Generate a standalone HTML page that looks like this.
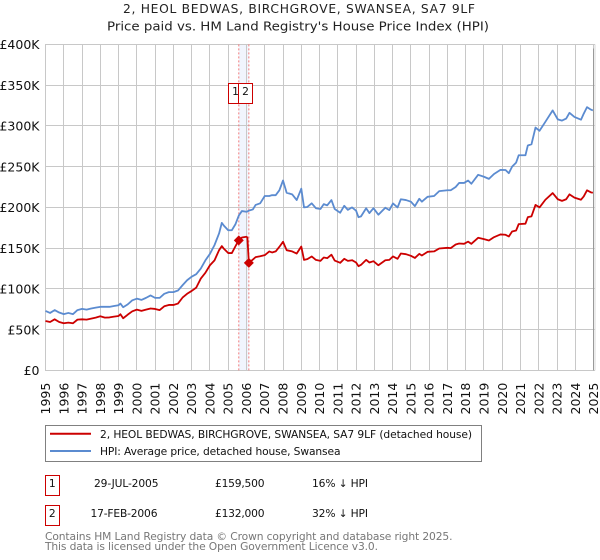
<!DOCTYPE html>
<html>
<head>
<meta charset="utf-8">
<title>2, HEOL BEDWAS price paid vs HPI</title>
<style>
html,body{margin:0;padding:0;background:#fff;}
body{width:600px;height:560px;overflow:hidden;}
svg{display:block;font-family:"DejaVu Sans","Liberation Sans",sans-serif;}
</style>
</head>
<body>
<svg id="chart" width="600" height="560" viewBox="0 0 600 560" xmlns="http://www.w3.org/2000/svg">
  <text x="123" y="13" font-size="12.3" fill="#222" textLength="352" lengthAdjust="spacing">2, HEOL BEDWAS, BIRCHGROVE, SWANSEA, SA7 9LF</text>
  <text x="107" y="30.7" font-size="12.6" fill="#222" textLength="382" lengthAdjust="spacingAndGlyphs">Price paid vs. HM Land Registry's House Price Index (HPI)</text>
  <g id="plot"></g>

  <g>
    <rect x="45.5" y="425.5" width="436" height="36" fill="#fff" stroke="#808080"/>
    <line x1="50" x2="91" y1="433.8" y2="433.8" stroke="#cc0000" stroke-width="2"/>
    <text x="100" y="438" font-size="10.7" fill="#111" textLength="372" lengthAdjust="spacing">2, HEOL BEDWAS, BIRCHGROVE, SWANSEA, SA7 9LF (detached house)</text>
    <line x1="50" x2="91" y1="451" y2="451" stroke="#5b8bd0" stroke-width="2"/>
    <text x="100" y="455" font-size="10.7" fill="#111" textLength="240.5" lengthAdjust="spacing">HPI: Average price, detached house, Swansea</text>
  </g>

  <g>
    <rect x="45.5" y="475.5" width="14" height="20" fill="#fff" stroke="#cc0000"/>
    <text x="52.3" y="487" text-anchor="middle" font-size="10.7" fill="#111">1</text>
    <text x="94" y="487" font-size="10.7" fill="#111" textLength="64.5" lengthAdjust="spacing">29-JUL-2005</text>
    <text x="215" y="487" font-size="10.7" fill="#111" textLength="49.5" lengthAdjust="spacing">£159,500</text>
    <text x="312" y="487" font-size="10.7" fill="#111" textLength="56" lengthAdjust="spacing">16% ↓ HPI</text>
  </g>
  <g>
    <rect x="45.5" y="505.5" width="14" height="20" fill="#fff" stroke="#cc0000"/>
    <text x="52.3" y="517" text-anchor="middle" font-size="10.7" fill="#111">2</text>
    <text x="90.5" y="517" font-size="10.7" fill="#111" textLength="67" lengthAdjust="spacing">17-FEB-2006</text>
    <text x="215" y="517" font-size="10.7" fill="#111" textLength="49.5" lengthAdjust="spacing">£132,000</text>
    <text x="312" y="517" font-size="10.7" fill="#111" textLength="56" lengthAdjust="spacing">32% ↓ HPI</text>
  </g>

  <text x="45" y="540" font-size="10.7" fill="#777" textLength="407.5" lengthAdjust="spacing">Contains HM Land Registry data © Crown copyright and database right 2025.</text>
  <text x="45" y="550" font-size="10.7" fill="#777" textLength="333" lengthAdjust="spacing">This data is licensed under the Open Government Licence v3.0.</text>
</svg>
<script>
const yearTicks = [1995,1996,1997,1998,1999,2000,2001,2002,2003,2004,2005,2006,2007,2008,2009,2010,2011,2012,2013,2014,2015,2016,2017,2018,2019,2020,2021,2022,2023,2024,2025];
const valueTicks = [0,50,100,150,200,250,300,350,400];
const valueLabels = ["£0","£50K","£100K","£150K","£200K","£250K","£300K","£350K","£400K"];
const saleDates = [2005.58,2006.13];
const salePrices = [159.5,132];
const saleLabels = ["1","2"];

const dates = [1995,1995.25,1995.5,1995.75,1996,1996.25,1996.5,1996.75,1997,1997.25,1997.5,1997.75,1998,1998.25,1998.5,1998.75,1999,1999.1,1999.25,1999.5,1999.75,2000,2000.25,2000.5,2000.75,2001,2001.25,2001.5,2001.75,2002,2002.25,2002.5,2002.75,2003,2003.25,2003.5,2003.75,2004,2004.25,2004.5,2004.65,2004.75,2005,2005.2,2005.4,2005.58,2005.75,2006,2006.05,2006.13,2006.35,2006.5,2006.75,2007,2007.25,2007.4,2007.6,2007.8,2008,2008.2,2008.5,2008.75,2009,2009.15,2009.33,2009.57,2009.8,2010.05,2010.23,2010.42,2010.65,2010.83,2011.13,2011.35,2011.55,2011.78,2012,2012.13,2012.27,2012.55,2012.73,2012.95,2013.22,2013.6,2013.82,2014.02,2014.27,2014.45,2014.73,2015,2015.22,2015.46,2015.6,2015.91,2016.27,2016.55,2017,2017.18,2017.45,2017.64,2017.91,2018.13,2018.31,2018.68,2019,2019.27,2019.55,2019.9,2020.18,2020.36,2020.54,2020.76,2020.9,2021.27,2021.4,2021.6,2021.82,2022.04,2022.36,2022.76,2023.04,2023.27,2023.5,2023.68,2023.95,2024.31,2024.46,2024.64,2024.85,2024.96];

const pricePaid = [60.6,59.4,62.7,59.4,57.8,58.6,57.8,62.3,62.7,62.3,63.5,64.8,66.4,64.8,65,66,66.8,68.9,64,68.4,72.5,74.6,73,74.6,76,75.4,74,78.7,80.3,80.3,82,89.3,94,97.5,101.6,112.7,119.7,129,135,147.5,152.5,149.6,144,144,152.5,159.8,163,164,163,132,136,139,140,141.4,146,144.7,146,151.6,157.8,147.5,146,143.4,152,135.6,136.5,139.8,135.6,134.4,138.5,137.7,142,134.8,132,136.9,134.4,135.2,132.4,127.9,129.5,135.6,132.4,134,129,135.2,135.6,139.8,136.9,143.4,142.6,140.6,138,143,141,145.5,146,149.6,150.4,150,154.5,155.7,155.3,158,155.3,162.7,161,159.4,163.5,166.8,166.4,164.3,170.5,171.7,179.5,180,188,189,203,200,209.4,217.6,210,208,210,216,212,209.4,213.5,221,218.5,218];

const hpiValues = [73,70.5,74,71,69,70.5,69,74,75.5,74.6,76,77,78,78,78,79,80,82,77.5,81,86,88,86.5,89,92,89,89,94,96,96,98,104.5,110.6,115,118,125,135,143,153.7,168,181,178,172,172,179.5,190,195.5,194.7,195,196,197.5,203,205,214,214,215,215,221,233,218,216,209,223,200,200.5,205,199,198,204,202.5,209,198,193.5,202,197,200,196,188,189,199,193,199,191,199.6,196.7,204.9,200,210,209,207,201.6,210.6,207,213,214,220,221,221,225,230,230,233,229,240,237.6,235,241,246,245.9,242,250,255,264,264,276,277.5,298,294,305,319,308,306.5,309,316,311,307.6,315,323,320,319];

const NS = 'http://www.w3.org/2000/svg';
const plot = document.getElementById('plot');
const xScale = function (year) { return 45.5 + (year - 1995) * 18.27; };
const yScale = function (value) { return 370.4 - value * 0.815; };

function make(tag, attrs, text) {
  const el = document.createElementNS(NS, tag);
  Object.keys(attrs).forEach(function (k) { el.setAttribute(k, attrs[k]); });
  if (text !== undefined) el.textContent = text;
  plot.appendChild(el);
  return el;
}
function snap(v) { return Math.round(v - 0.5) + 0.5; }

const shade = make('rect', {x: xScale(saleDates[0]), y: yScale(400), width: xScale(saleDates[1]) - xScale(saleDates[0]), height: yScale(0) - yScale(400), fill: '#f1f5fd'});



valueTicks.forEach(function (v, i) {
  const grid = make('line', {x1: 45, x2: 595, y1: snap(yScale(v)), y2: snap(yScale(v)), stroke: '#c8c8c8', 'stroke-width': 1});
  
  
  const label = make('text', {x: 39.5, y: yScale(v) + 4.6, 'text-anchor': 'end', 'font-size': 12.5, fill: '#111'}, valueLabels[i]);
  
  
});

yearTicks.forEach(function (y) {
  const gx = snap(xScale(y));
  const grid = make('line', {x1: gx, x2: gx, y1: yScale(400), y2: yScale(0), stroke: '#c8c8c8', 'stroke-width': 1});
  
  
  const tx = xScale(y) + 4.5;
  const label = make('text', {x: tx, y: 414.5, 'font-size': 12.5, fill: '#111', transform: 'rotate(-90 ' + tx + ' 414.5)'}, String(y));
  
  
});

const rightBorder = make('line', {x1: 595, x2: 595, y1: yScale(400), y2: yScale(0), stroke: '#d8d8d8', 'stroke-width': 1});


const endLine = make('line', {x1: 593.5, x2: 593.5, y1: yScale(395), y2: yScale(0), stroke: '#999', 'stroke-width': 1});



saleDates.forEach(function (d) {
  const guide = make('line', {x1: xScale(d), x2: xScale(d), y1: yScale(400), y2: yScale(0), stroke: '#f27a7a', 'stroke-width': 1, 'stroke-dasharray': '2 2'});
  
  
});

function linePoints(values) {
  return values.map(function (v, i) { return xScale(dates[i]).toFixed(2) + ',' + yScale(v).toFixed(2); }).join(' ');
}
const hpiLine = make('polyline', {points: linePoints(hpiValues), fill: 'none', stroke: '#5b8bd0', 'stroke-width': 1.8, 'stroke-linejoin': 'round'});


const priceLine = make('polyline', {points: linePoints(pricePaid), fill: 'none', stroke: '#cc0000', 'stroke-width': 1.8, 'stroke-linejoin': 'round'});



saleDates.forEach(function (d, i) {
  const cx = xScale(d), cy = yScale(salePrices[i]), r = 5;
  const marker = make('polygon', {points: [cx, cy - r, cx + r, cy, cx, cy + r, cx - r, cy].join(' '), fill: '#cc0000'});
  
  
  const bx = snap(cx - 10);
  const box = make('rect', {x: bx, y: 83.5, width: 14, height: 20, fill: '#fff', stroke: '#cc0000', 'stroke-width': 1});
  
  
  const flag = make('text', {x: bx + 7, y: 95, 'text-anchor': 'middle', 'font-size': 10.7, fill: '#111'}, saleLabels[i]);
  
  
});
</script>
</body>
</html>
